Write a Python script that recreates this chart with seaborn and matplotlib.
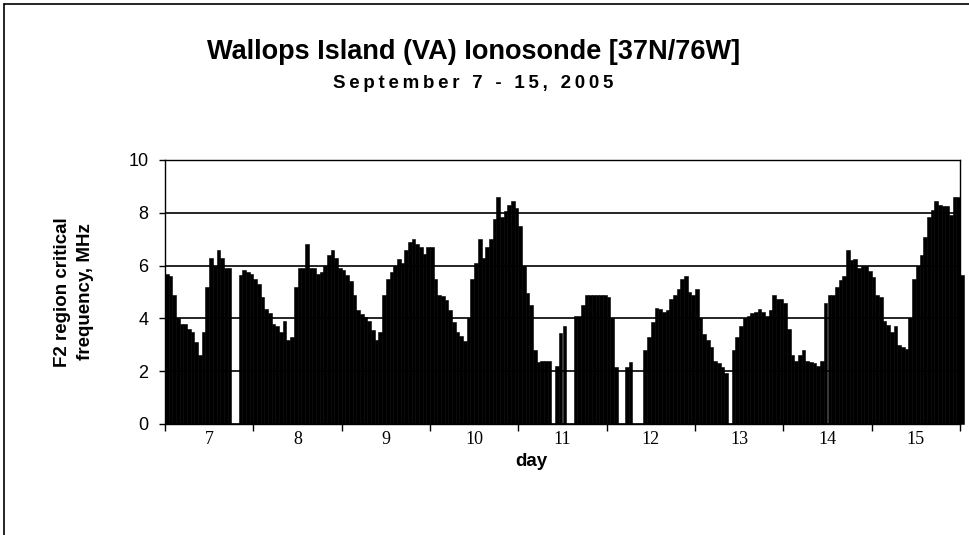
import numpy as np
import pandas as pd
import matplotlib
matplotlib.use("Agg")
import matplotlib.pyplot as plt
from matplotlib.lines import Line2D
import seaborn as sns

nan = np.nan

# ==========================================
# Hourly F2 critical frequency (MHz)
# one list per day, 24 hourly values each (nan = no data)
# ==========================================
sep07 = [5.7, 5.6, 4.9, 4.0, 3.8, 3.8, 3.6, 3.5, 3.1, 2.6, 3.5, 5.2,
         6.3, 6.0, 6.6, 6.3, 5.9, 5.9, nan, nan, 5.65, 5.85, 5.75, 5.7]
sep08 = [5.5, 5.3, 4.8, 4.35, 4.2, 3.8, 3.7, 3.5, 3.9, 3.2, 3.3, 5.2,
         5.9, 5.9, 6.8, 5.9, 5.9, 5.7, 5.75, 6.0, 6.4, 6.6, 6.3, 5.9]
sep09 = [5.85, 5.65, 5.4, 4.9, 4.3, 4.15, 4.05, 3.9, 3.55, 3.2, 3.5, 4.9,
         5.5, 5.75, 6.0, 6.25, 6.1, 6.6, 6.9, 7.0, 6.8, 6.7, 6.45, 6.7]
sep10 = [6.7, 5.5, 4.9, 4.85, 4.7, 4.3, 3.85, 3.5, 3.35, 3.15, 4.0, 5.5,
         6.1, 7.0, 6.3, 6.7, 7.0, 7.75, 8.6, 7.85, 8.05, 8.3, 8.45, 8.2]
sep11 = [7.5, 6.0, 4.95, 4.5, 2.8, 2.35, 2.4, 2.4, 2.4, nan, 2.2, 3.45,
         3.7, nan, nan, 4.1, 4.1, 4.5, 4.9, 4.9, 4.9, 4.9, 4.9, 4.9]
sep12 = [4.8, 4.0, 2.15, nan, nan, 2.15, 2.35, nan, nan, nan, 2.8, 3.3,
         3.85, 4.4, 4.35, 4.25, 4.3, 4.75, 4.9, 5.1, 5.5, 5.6, 5.0, 4.9]
sep13 = [5.1, 4.0, 3.4, 3.2, 2.9, 2.4, 2.3, 2.15, 1.95, nan, 2.8, 3.3,
         3.7, 4.0, 4.1, 4.2, 4.25, 4.35, 4.25, 4.1, 4.3, 4.9, 4.75, 4.75]
sep14 = [4.6, 3.6, 2.6, 2.4, 2.6, 2.8, 2.4, 2.35, 2.3, 2.2, 2.4, 4.6,
         4.9, 4.9, 5.2, 5.45, 5.6, 6.6, 6.2, 6.25, 5.9, 6.0, 6.0, 5.8]
sep15 = [5.55, 4.9, 4.8, 3.9, 3.75, 3.5, 3.7, 3.0, 2.9, 2.85, 4.0, 5.5,
         6.0, 6.4, 7.1, 7.85, 8.1, 8.45, 8.3, 8.27, 8.25, 7.9, 8.6, 8.6]
sep16 = [5.65]  # 00 UT of the next day, drawn just past the axis end

days = [7, 8, 9, 10, 11, 12, 13, 14, 15]
day_labels = [str(d) for d in days]

fof2 = sep07 + sep08 + sep09 + sep10 + sep11 + sep12 + sep13 + sep14 + sep15 + sep16
df = pd.DataFrame({"hour": np.arange(len(fof2)), "foF2": fof2}).dropna()

# ==========================================
# Figure
# ==========================================
sns.set_theme(style="white")
plt.rcParams["font.family"] = ["Liberation Sans", "DejaVu Sans"]
plt.rcParams["text.color"] = "black"
plt.rcParams["axes.labelcolor"] = "black"
plt.rcParams["xtick.color"] = "black"
plt.rcParams["ytick.color"] = "black"

fig = plt.figure(figsize=(9.69, 5.35), dpi=100)
ax = fig.add_axes([165 / 969, 1 - 424 / 535, 795 / 969, 264 / 535])

sns.barplot(data=df, x="hour", y="foF2", native_scale=True, color="black",
            saturation=1, width=1, errorbar=None, linewidth=0.4,
            edgecolor="black", ax=ax)
for p in ax.patches:
    p.set_clip_on(False)

n_hours = 24 * len(days)
ax.set_xlim(-0.5, n_hours - 0.5)
ax.set_ylim(0, 10)
ax.set_yticks(range(0, 11, 2))
ax.yaxis.grid(True, color="black", linewidth=1.2)
ax.xaxis.grid(False)
ax.set_axisbelow(True)

for s in ax.spines.values():
    s.set_visible(True)
    s.set_color("black")
    s.set_linewidth(1.0)

# day boundaries as ticks, labels centred in each day
bounds = [24 * k - 0.5 for k in range(len(days) + 1)]
centres = [24 * k + 11.5 for k in range(len(days))]
ax.set_xticks(bounds)
ax.set_xticklabels([""] * len(bounds))
ax.set_xticks(centres, minor=True)
ax.set_xticklabels(day_labels, minor=True, fontfamily="Liberation Serif",
                   fontsize=13)
ax.tick_params(axis="x", which="major", bottom=True, length=5, width=1,
               direction="out")
ax.tick_params(axis="x", which="minor", bottom=True, length=0, pad=5)
ax.tick_params(axis="y", left=True, length=4, width=1, direction="out",
               labelsize=13, pad=8)

ax.set_xlabel("")
ax.set_ylabel("")

fig.text(531 / 969, 1 - 462 / 535, "day", ha="center", va="center",
         fontsize=13.5, fontweight="bold")
fig.text(74 / 969, 1 - 292 / 535, "F2 region critical\nfrequency, MHz",
         rotation=90, ha="center", va="center", fontsize=13.5,
         fontweight="bold", linespacing=1.45)

fig.text(473.5 / 969, 1 - 52 / 535, "Wallops Island (VA) Ionosonde [37N/76W]",
         ha="center", va="center", fontsize=19.5, fontweight="bold")
# the original subtitle is letter-spaced; thin spaces imitate that
subtitle = "September 7 - 15, 2005"
fig.text(473.5 / 969, 1 - 83 / 535, "\u2009".join(subtitle),
         ha="center", va="center", fontsize=13.5, fontweight="bold")

# chart-area frame (cut at right and bottom in the original)
fig.add_artist(Line2D([3.5 / 969, 1], [1 - 3.5 / 535] * 2, color="black",
                      linewidth=1.2, transform=fig.transFigure))
fig.add_artist(Line2D([3.5 / 969] * 2, [0, 1 - 3.5 / 535], color="black",
                      linewidth=1.2, transform=fig.transFigure))

fig.savefig("out.png", dpi=100)
